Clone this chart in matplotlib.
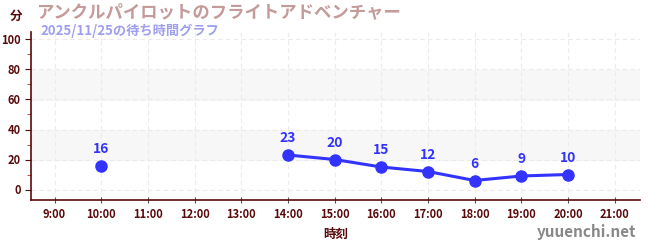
import numpy as np
import matplotlib.pyplot as plt
from matplotlib.ticker import MultipleLocator

plt.rcParams['font.family'] = ['Noto Sans CJK JP', 'DejaVu Sans']

# データ（時刻と待ち時間）
hours = [10, 11, 12, 13, 14, 15, 16, 17, 18, 19, 20]
waits = [16, np.nan, np.nan, np.nan, 23, 20, 15, 12, 6, 9, 10]
tick_hours = list(range(9, 22))
tick_labels = [f'{h}:00' for h in tick_hours]

dark = '#5a0a0a'
blue = '#3333ff'

fig = plt.figure(figsize=(6.5, 2.5), dpi=100)
ax = fig.add_axes([0.048, 0.2, 0.937, 0.672])

ax.set_xlim(8.5, 21.55)
ax.set_ylim(-7, 105)

# 背景の帯
for lo, hi in [(20, 40), (60, 80)]:
    ax.axhspan(lo, hi, color='#f7f7f7', zorder=0)

ax.grid(True, which='major', color='#ebebeb', linestyle=(0, (4, 3)), linewidth=0.8)
ax.set_axisbelow(True)

ax.plot(hours, waits, color=blue, linewidth=2.2, marker='o', markersize=8, zorder=3)
for h, w in zip(hours, waits):
    if not np.isnan(w):
        ax.annotate(f'{int(w)}', (h, w), xytext=(0, 7), textcoords='offset points',
                    ha='center', va='bottom', color=blue, fontsize=10, fontweight='bold')

ax.set_xticks(tick_hours)
ax.set_xticklabels(tick_labels)
ax.yaxis.set_major_locator(MultipleLocator(20))
ax.yaxis.set_minor_locator(MultipleLocator(10))

for s in ['top', 'right']:
    ax.spines[s].set_visible(False)
ax.spines['left'].set_color(dark)
ax.spines['bottom'].set_color(dark)
ax.spines['left'].set_linewidth(1.2)
ax.spines['bottom'].set_linewidth(1.2)

ax.tick_params(axis='x', colors='#555555', labelcolor=dark, labelsize=8, length=4, direction='inout')
ax.tick_params(axis='y', which='major', colors=dark, labelsize=8, length=4)
ax.tick_params(axis='y', which='minor', colors='#cc2222', length=3)
for lab in ax.get_xticklabels() + ax.get_yticklabels():
    lab.set_fontweight('bold')

ax.set_xlabel('時刻', color=dark, fontsize=9, fontweight='bold', labelpad=5)

fig.text(0.015, 0.935, '分', color=dark, fontsize=9, fontweight='bold', va='center')
fig.text(0.055, 0.95, 'アンクルパイロットのフライトアドベンチャー', color='#c49a9a',
         fontsize=12.5, fontweight='bold', va='center')
fig.text(0.062, 0.875, '2025/11/25の待ち時間グラフ', color='#9f9ff0',
         fontsize=9.5, fontweight='bold', va='center')
fig.text(0.978, 0.07, 'yuuenchi.net', color='#888888', fontsize=11,
         fontweight='bold', ha='right', va='center')

fig.savefig('out.png', dpi=100)
